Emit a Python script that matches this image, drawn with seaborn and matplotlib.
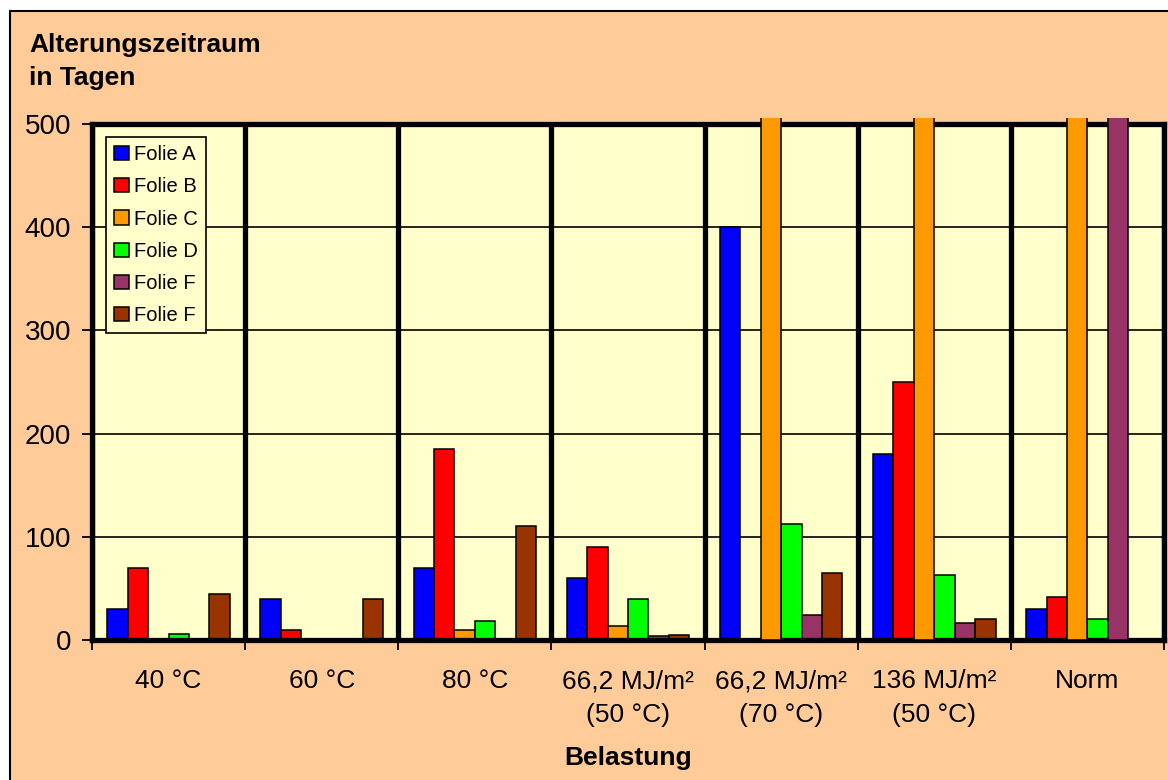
import numpy as np
import pandas as pd
import matplotlib
matplotlib.use("Agg")
import matplotlib.pyplot as plt
from matplotlib.patches import Rectangle
from matplotlib.transforms import Bbox, TransformedBbox
import seaborn as sns

plt.rcParams["font.family"] = ["Liberation Sans", "DejaVu Sans"]

# data (values above 500 are off scale)
belastung = ["40 °C", "60 °C", "80 °C", "66,2 MJ/m²\n(50 °C)",
             "66,2 MJ/m²\n(70 °C)", "136 MJ/m²\n(50 °C)", "Norm"]
folie_a = [30, 40, 70, 60, 400, 180, 30]
folie_b = [70, 10, 185, 90, 0, 250, 42]
folie_c = [0, 0, 10, 14, 600, 600, 600]
folie_d = [6, 0, 18, 40, 112, 63, 20]
folie_f1 = [0, 0, 0, 4, 24, 16, 600]
folie_f2 = [45, 40, 110, 5, 65, 20, 0]

series_keys = ["A", "B", "C", "D", "F1", "F2"]
legend_labels = ["Folie A", "Folie B", "Folie C", "Folie D", "Folie F", "Folie F"]
colors = ["#0000FF", "#FF0000", "#FF9900", "#00FF00", "#993366", "#993300"]

rows = []
for key, values in zip(series_keys, [folie_a, folie_b, folie_c, folie_d, folie_f1, folie_f2]):
    for cat, v in zip(belastung, values):
        rows.append({"Belastung": cat, "Folie": key, "Tage": v})
df = pd.DataFrame(rows)

W, H = 1168, 780
fig = plt.figure(figsize=(W / 100, H / 100), dpi=100, facecolor="white")
fig.patches.append(Rectangle((10 / W, -0.05), 1.0, 1.05 - 11 / H, transform=fig.transFigure,
                             facecolor="#FFCC99", edgecolor="black", linewidth=1.5, zorder=-10))

ax = fig.add_axes([92 / W, 140 / H, (1164 - 92) / W, (640 - 124) / H])
ax.set_facecolor("#FFFFCC")

sns.barplot(data=df, x="Belastung", y="Tage", hue="Folie", palette=colors, saturation=1,
            edgecolor="black", linewidth=1.1, width=0.8, ax=ax)

ax.set_xlim(-0.5, len(belastung) - 0.5)
ax.set_ylim(0, 500)
ax.set_yticks(np.arange(0, 501, 100))
ax.set_xticks(np.arange(-0.5, len(belastung), 1), minor=True)
ax.set_xlabel("")
ax.set_ylabel("")

ax.set_axisbelow(True)
ax.yaxis.grid(True, color="black", linewidth=1.2)
ax.xaxis.grid(True, which="minor", color="black", linewidth=3.8)
ax.xaxis.grid(False, which="major")

ax.tick_params(axis="x", which="major", length=0, pad=21, labelsize=19)
ax.tick_params(axis="x", which="minor", length=7, width=1.3, direction="out")
ax.tick_params(axis="y", length=7, width=1.3, pad=8, labelsize=20)
for lbl in ax.get_xticklabels():
    lbl.set_linespacing(1.5)
for s in ax.spines.values():
    s.set_linewidth(3.8)
    s.set_color("black")

# off-scale bars poke a little above the frame
clip = TransformedBbox(Bbox([[0, 0], [1, 1.012]]), ax.transAxes)
for bar in ax.patches:
    if bar.get_height() > 500:
        bar.set_clip_path(None)
        bar.set_clip_box(clip)
        bar.set_zorder(3)

handles, _ = ax.get_legend_handles_labels()
leg = ax.legend(handles, legend_labels, loc="upper left", bbox_to_anchor=(0.013, 0.975),
                fontsize=14.5, frameon=True, fancybox=False, edgecolor="black",
                facecolor="#FFFFCC", framealpha=1, handlelength=0.75, handleheight=0.7,
                handletextpad=0.25, labelspacing=0.66, borderpad=0.4, borderaxespad=0)
leg.get_frame().set_linewidth(1.2)

fig.text(29 / W, 1 - 52 / H, "Alterungszeitraum", fontsize=19, fontweight="bold", va="baseline")
fig.text(29 / W, 1 - 85 / H, "in Tagen", fontsize=19, fontweight="bold", va="baseline")
fig.text((92 + 1164) / 2 / W, 1 - 765 / H, "Belastung", fontsize=19, fontweight="bold",
         va="baseline", ha="center")

fig.savefig("out.png", dpi=100, facecolor=fig.get_facecolor())
